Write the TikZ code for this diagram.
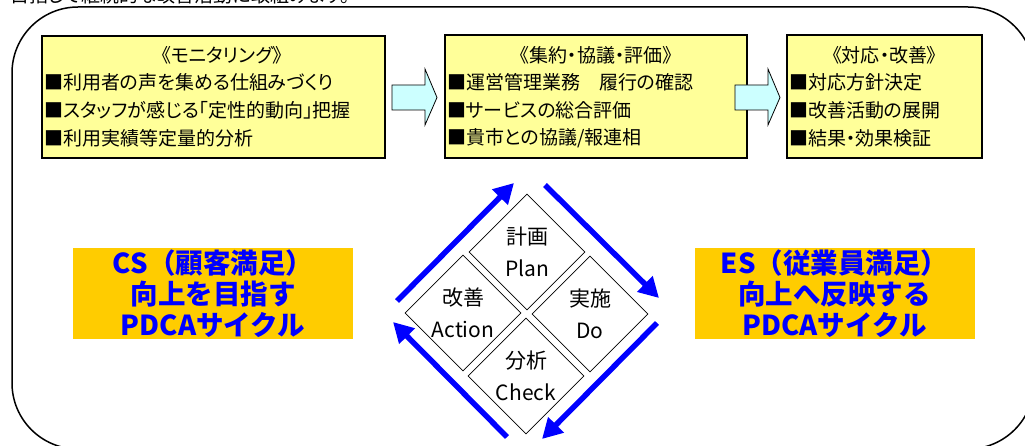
\documentclass[tikz,border=0pt]{standalone}
\usepackage{fontspec}
\setmainfont{Noto Sans CJK JP}
\newfontfamily\pfont{Noto Sans CJK JP}[RawFeature=+palt]
\usetikzlibrary{shapes.geometric,arrows.meta}
\definecolor{boxyellow}{HTML}{FFFF99}
\definecolor{arrowcyan}{HTML}{CCFFFF}
\definecolor{csorange}{HTML}{FFCC00}
\definecolor{pdcablue}{HTML}{0000FF}
\tikzset{
  ybox/.style={draw=black, line width=2.2pt, fill=boxyellow, inner sep=0pt},
  ytitle/.style={font=\pfont\fontsize{19}{20}\selectfont, inner sep=0pt, anchor=center},
  yitem/.style={font=\pfont\fontsize{19}{20}\selectfont, inner sep=0pt, anchor=west},
  barrow/.style={draw=black, line width=0.8pt, fill=arrowcyan, line join=miter},
  dia/.style={diamond, draw=black, line width=0.7pt, aspect=1, minimum width=116pt, minimum height=116pt, inner sep=0pt, align=center, font=\fontsize{21}{32}\selectfont},
  obox/.style={fill=csorange, minimum width=280pt, minimum height=91pt, inner sep=0pt, align=center, text=pdcablue, font=\fontsize{27.5}{31}\selectfont\bfseries},
  cyc/.style={draw=pdcablue, line width=5.5pt, -{Triangle[length=20pt,width=21pt]}, shorten >=0pt},
}
\begin{document}
\begin{tikzpicture}[x=1pt,y=-1pt]
\useasboundingbox (0,0) rectangle (1025,446);
\clip (0,0) rectangle (1025,446);
% clipped heading text at the top
\node[anchor=base west, inner sep=0pt, font=\pfont\fontsize{19}{20}\selectfont] (head) at (10,3) {目指して継続的な改善活動に取組みます。};
% outer frame
\draw[line width=1.5pt, rounded corners=66pt] (12,7) rectangle (1034,449);
% yellow boxes
\node[ybox, minimum width=343pt, minimum height=122pt] (mon) at (213.5,97) {};
\node[ybox, minimum width=302pt, minimum height=123pt] (agg) at (596,96.5) {};
\node[ybox, minimum width=195pt, minimum height=123pt] (resp) at (884.5,96.5) {};
\node[ytitle] (mont) at (222,55) {《モニタリング》};
\node[yitem] (mon1) at (44,82) {■利用者の声を集める仕組みづくり};
\node[yitem] (mon2) at (44,110) {■スタッフが感じる「定性的動向」把握};
\node[yitem] (mon3) at (44,138) {■利用実績等定量的分析};
\node[ytitle] (aggt) at (596,55) {《集約・協議・評価》};
\node[yitem] (agg1) at (447,82) {■運営管理業務　履行の確認};
\node[yitem] (agg2) at (447,110) {■サービスの総合評価};
\node[yitem] (agg3) at (447,138) {■貴市との協議/報連相};
\node[ytitle] (respt) at (884.5,55) {《対応・改善》};
\node[yitem] (resp1) at (789,82) {■対応方針決定};
\node[yitem] (resp2) at (789,110) {■改善活動の展開};
\node[yitem] (resp3) at (789,138) {■結果・効果検証};
% block arrows
\draw[barrow] (392,85) -- (425,85) -- (425,69) -- (437,97.5) -- (425,125) -- (425,110) -- (392,110) -- cycle;
\draw[barrow] (735,85) -- (768,85) -- (768,69) -- (780,97.5) -- (768,125) -- (768,110) -- (735,110) -- cycle;
% orange boxes
\node[obox] (cs) at (213,293.5) {CS（顧客満足）\\向上を目指す\\PDCAサイクル};
\node[obox] (es) at (834.5,293.5) {ES（従業員満足）\\向上へ反映する\\PDCAサイクル};
% PDCA diamonds
\node[dia] (plan) at (527,252) {計画\\Plan};
\node[dia] (act) at (463,313) {改善\\Action};
\node[dia] (do) at (590,314) {実施\\Do};
\node[dia] (chk) at (526,376) {分析\\Check};
% cycle arrows
\coordinate (ul0) at (397,301); \coordinate (ul1) at (514,183);
\coordinate (ur0) at (545,185); \coordinate (ur1) at (659,298);
\coordinate (lr0) at (657,323); \coordinate (lr1) at (542,439);
\coordinate (ll0) at (507,437); \coordinate (ll1) at (393,322);
\draw[cyc] (ul0) -- (ul1);
\draw[cyc] (ur0) -- (ur1);
\draw[cyc] (lr0) -- (lr1);
\draw[cyc] (ll0) -- (ll1);
\end{tikzpicture}
\end{document}
